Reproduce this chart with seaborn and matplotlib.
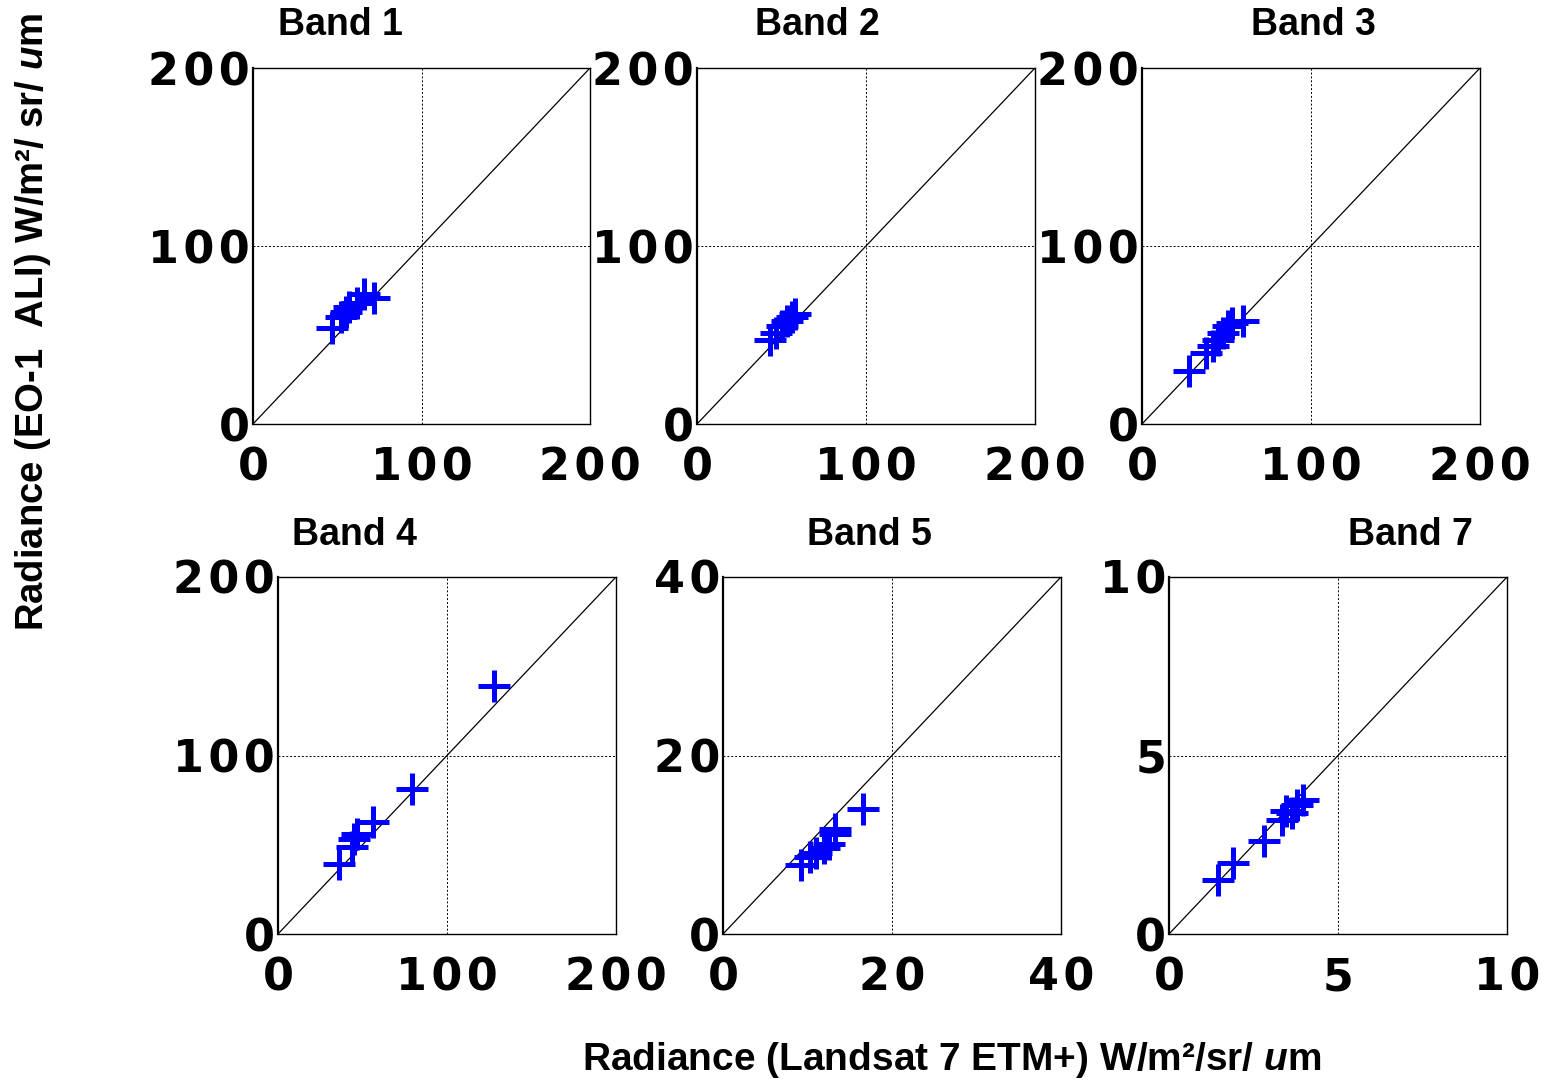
import matplotlib
matplotlib.use("Agg")
import matplotlib.pyplot as plt
import pandas as pd
import seaborn as sns

# Radiance comparison, Landsat 7 ETM+ (x) versus EO-1 ALI (y), per band
band_titles = ["Band 1", "Band 2", "Band 3", "Band 4", "Band 5", "Band 7"]

band1_etm = [47, 52, 55, 57, 62, 66, 72]
band1_ali = [54, 60, 63, 66, 68, 73, 71]

band2_etm = [43, 47, 50, 53, 56, 58]
band2_ali = [47, 51, 55, 58, 60, 62]

band3_etm = [28, 38, 42, 45, 48, 51, 53, 60]
band3_ali = [30, 40, 44, 47, 51, 55, 57, 58]

band4_etm = [36, 44, 45, 47, 56, 79, 128]
band4_ali = [39, 49, 53, 56, 63, 81, 139]

band5_etm = [9.25, 10.3, 11.0, 11.9, 12.5, 13.2, 13.3, 16.6]
band5_ali = [7.7, 8.6, 9.1, 9.6, 10.1, 11.25, 11.8, 14.0]

band7_etm = [1.45, 1.9, 2.8, 3.35, 3.45, 3.65, 3.8, 3.95]
band7_ali = [1.5, 2.0, 2.6, 3.2, 3.45, 3.4, 3.6, 3.75]

axis_limits = [200, 200, 200, 200, 40, 10]
tick_values = [[0, 100, 200]] * 4 + [[0, 20, 40], [0, 5, 10]]
tick_labels = [["0", "100", "200"]] * 4 + [["0", "20", "40"], ["0", "5", "10"]]

etm_values = [band1_etm, band2_etm, band3_etm, band4_etm, band5_etm, band7_etm]
ali_values = [band1_ali, band2_ali, band3_ali, band4_ali, band5_ali, band7_ali]

sns.set_theme(style="white")
plt.rcParams["font.family"] = ["Liberation Sans", "DejaVu Sans"]
plt.rcParams["font.weight"] = "bold"
plt.rcParams["text.color"] = "black"
plt.rcParams["xtick.color"] = "black"
plt.rcParams["ytick.color"] = "black"
plt.rcParams["mathtext.fontset"] = "custom"
plt.rcParams["mathtext.rm"] = "Liberation Sans:bold"
plt.rcParams["mathtext.it"] = "Liberation Sans:italic:bold"
plt.rcParams["mathtext.bf"] = "Liberation Sans:bold"

W, H = 1551, 1081
fig = plt.figure(figsize=(W / 100, H / 100), dpi=100)

# panel boxes in pixels: left, top, right, bottom
boxes = [
    (253, 68, 590, 424), (697, 68, 1035, 424), (1142, 68, 1480, 424),
    (278, 577, 616, 934), (723, 577, 1061, 934), (1169, 577, 1507, 934),
]
title_pos = [(340, 25), (817, 25), (1313, 25), (354, 535), (869, 535), (1410, 535)]


def spaced(s):
    return "\u200a".join(s)


for i in range(6):
    l, t, r, b = boxes[i]
    ax = fig.add_axes([l / W, 1 - b / H, (r - l) / W, (b - t) / H])
    lim = axis_limits[i]
    df = pd.DataFrame({"etm": etm_values[i], "ali": ali_values[i]})
    ax.plot([0, lim], [0, lim], color="black", lw=0.9, zorder=1)
    sns.scatterplot(data=df, x="etm", y="ali", ax=ax, marker="+", s=23 ** 2,
                    color="#0000ff", linewidth=3.6, zorder=3, legend=False)
    ax.set_xlim(0, lim)
    ax.set_ylim(0, lim)
    ax.set_xticks(tick_values[i])
    ax.set_yticks(tick_values[i])
    ax.set_xticklabels([spaced(s) for s in tick_labels[i]])
    ax.set_yticklabels([spaced(s) for s in tick_labels[i]])
    ax.tick_params(axis="both", length=0, labelsize=32, labelcolor="black")
    ax.tick_params(axis="x", pad=16)
    ax.tick_params(axis="y", pad=2)
    for lab in ax.get_xticklabels() + ax.get_yticklabels():
        lab.set_fontweight("bold")
        lab.set_family(["DejaVu Sans"])
    ax.grid(True, color="black", linestyle=(0, (2, 2)), linewidth=0.7)
    for sp in ax.spines.values():
        sp.set_color("black")
        sp.set_linewidth(1.0)
    ax.spines["left"].set_linewidth(1.6)
    ax.set_xlabel("")
    ax.set_ylabel("")
    tx, ty = title_pos[i]
    fig.text(tx / W, 1 - ty / H, band_titles[i], ha="center", va="center",
             fontsize=27, fontweight="bold")

fig.text(952 / W, 1 - 1060 / H, r"Radiance (Landsat 7 ETM+) W/m²/sr/ $\mathit{u}$m",
         ha="center", va="center", fontsize=28, fontweight="bold")
fig.text(33 / W, 1 - 322 / H, r"Radiance (EO-1  ALI) W/m²/ sr/ $\mathit{u}$m",
         ha="center", va="center", rotation=90, fontsize=27.5, fontweight="bold")

fig.savefig("out.png", dpi=100, facecolor="white")
